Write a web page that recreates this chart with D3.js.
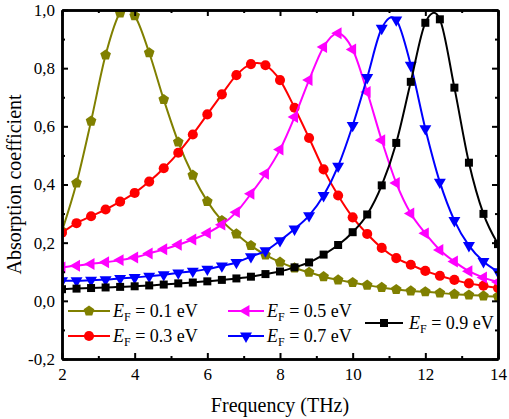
<!DOCTYPE html>
<html>
<head>
<meta charset="utf-8">
<script src="https://cdn.jsdelivr.net/npm/d3@7"></script>
<style>
  html, body { margin: 0; padding: 0; background: #fff; }
  svg { display: block; }
  text { font-family: "Liberation Serif", "Times New Roman", serif; fill: #000; }
</style>
</head>
<body>
<svg id="chart" width="509" height="419"></svg>
<script>
// ---- data ----
const freqs = [2.0, 2.4, 2.8, 3.2, 3.6, 4.0, 4.4, 4.8, 5.2, 5.6, 6.0, 6.4, 6.8, 7.2, 7.6, 8.0,
               8.4, 8.8, 9.2, 9.6, 10.0, 10.4, 10.8, 11.2, 11.6, 12.0, 12.4, 12.8, 13.2, 13.6, 14.0];

const ef01 = [0.240, 0.405, 0.618, 0.845, 0.990, 0.980, 0.853, 0.692, 0.546, 0.432, 0.342, 0.276, 0.230, 0.190, 0.158, 0.133,
              0.113, 0.098, 0.083, 0.072, 0.063, 0.054, 0.046, 0.039, 0.034, 0.031, 0.027, 0.023, 0.020, 0.017, 0.015];
const ef03 = [0.234, 0.267, 0.291, 0.314, 0.341, 0.371, 0.410, 0.456, 0.509, 0.572, 0.641, 0.710, 0.776, 0.814, 0.810, 0.759,
              0.664, 0.560, 0.452, 0.362, 0.287, 0.230, 0.182, 0.147, 0.124, 0.103, 0.086, 0.072, 0.060, 0.052, 0.044];
const ef05 = [0.115, 0.121, 0.127, 0.133, 0.140, 0.149, 0.163, 0.177, 0.193, 0.211, 0.233, 0.262, 0.305, 0.368, 0.437, 0.520,
              0.632, 0.759, 0.873, 0.920, 0.864, 0.718, 0.552, 0.405, 0.300, 0.232, 0.175, 0.135, 0.102, 0.080, 0.065];
const ef07 = [0.069, 0.069, 0.071, 0.073, 0.077, 0.080, 0.085, 0.090, 0.096, 0.102, 0.109, 0.120, 0.132, 0.152, 0.172, 0.207,
              0.247, 0.293, 0.362, 0.463, 0.603, 0.768, 0.937, 0.966, 0.810, 0.592, 0.408, 0.276, 0.190, 0.135, 0.100];
const ef09 = [0.040, 0.042, 0.044, 0.046, 0.048, 0.050, 0.053, 0.056, 0.060, 0.063, 0.067, 0.072, 0.077, 0.083, 0.092, 0.101,
              0.115, 0.132, 0.159, 0.192, 0.236, 0.297, 0.397, 0.543, 0.753, 0.956, 0.968, 0.733, 0.475, 0.299, 0.195];

const seriesNames  = ["0.1", "0.3", "0.5", "0.7", "0.9"];
const seriesValues = [ef01, ef03, ef05, ef07, ef09];
const seriesColors = ["#808000", "#ff0000", "#ff00ff", "#0000ff", "#000000"];
const seriesShapes = ["pentagon", "circle", "triLeft", "triDown", "square"];

const xTicks = [2, 4, 6, 8, 10, 12, 14];
const xMinor = [3, 5, 7, 9, 11, 13];
const yTicks = [-0.2, 0.0, 0.2, 0.4, 0.6, 0.8, 1.0];
const yMinor = [-0.1, 0.1, 0.3, 0.5, 0.7, 0.9];

// ---- layout ----
const svg = d3.select("#chart");
const L = 62, R = 498, T = 10, B = 359;
const x = d3.scaleLinear().domain([2, 14]).range([L, R]);
const y = d3.scaleLinear().domain([-0.2, 1.0]).range([B, T]);

svg.append("rect").attr("width", 509).attr("height", 419).attr("fill", "#fff");

svg.append("defs").append("clipPath").attr("id", "plotclip")
  .append("rect").attr("x", L).attr("y", T).attr("width", R - L).attr("height", B - T);

// ---- marker shapes ----
function markerPath(shape) {
  if (shape === "pentagon") {
    const r = 5.6;
    const pts = d3.range(5).map(k => {
      const a = -Math.PI / 2 + k * 2 * Math.PI / 5;
      return [r * Math.cos(a), r * Math.sin(a)];
    });
    return "M" + pts.map(p => p.join(",")).join("L") + "Z";
  }
  if (shape === "circle") return d3.symbol().type(d3.symbolCircle).size(80)();
  if (shape === "square") return d3.symbol().type(d3.symbolSquare).size(64)();
  return d3.symbol().type(d3.symbolTriangle).size(62)();
}
function markerRotate(shape) {
  if (shape === "triLeft") return -90;
  if (shape === "triDown") return 180;
  return 0;
}

// ---- series ----
const plot = svg.append("g").attr("clip-path", "url(#plotclip)");
const line = d3.line().x(d => x(d[0])).y(d => y(d[1])).curve(d3.curveCardinal.tension(0));

seriesValues.forEach((vals, i) => {
  const pts = freqs.map((f, j) => [f, vals[j]]);
  const g = plot.append("g");
  g.append("path").datum(pts)
    .attr("d", line)
    .attr("fill", "none")
    .attr("stroke", seriesColors[i])
    .attr("stroke-width", 2);
  g.selectAll("path.m").data(pts).join("path")
    .attr("class", "m")
    .attr("d", markerPath(seriesShapes[i]))
    .attr("transform", d => `translate(${x(d[0])},${y(d[1])}) rotate(${markerRotate(seriesShapes[i])})`)
    .attr("fill", seriesColors[i]);
});

// ---- axes ----
const fmtY = v => d3.format(".1f")(v).replace("\u2212", "-").replace(".", ",");
const axStyle = sel => {
  sel.select(".domain").attr("stroke", "#000").attr("stroke-width", 2.5);
  sel.selectAll(".tick line").attr("stroke", "#000").attr("stroke-width", 2);
  sel.selectAll("text").attr("font-family", "Liberation Serif").attr("font-size", 17).attr("fill", "#000");
};

// bottom
svg.append("g").attr("transform", `translate(0,${B})`)
  .call(d3.axisBottom(x).tickValues(xMinor).tickSize(-3).tickFormat("").tickSizeOuter(0)).call(axStyle);
svg.append("g").attr("transform", `translate(0,${B})`)
  .call(d3.axisBottom(x).tickValues(xTicks).tickSize(-6).tickPadding(9).tickFormat(d3.format("d")).tickSizeOuter(0))
  .call(axStyle);
// top
svg.append("g").attr("transform", `translate(0,${T})`)
  .call(d3.axisTop(x).tickValues(xMinor).tickSize(-3).tickFormat("").tickSizeOuter(0)).call(axStyle);
svg.append("g").attr("transform", `translate(0,${T})`)
  .call(d3.axisTop(x).tickValues(xTicks).tickSize(-6).tickFormat("").tickSizeOuter(0)).call(axStyle);
// left
svg.append("g").attr("transform", `translate(${L},0)`)
  .call(d3.axisLeft(y).tickValues(yMinor).tickSize(-3).tickFormat("").tickSizeOuter(0)).call(axStyle);
svg.append("g").attr("transform", `translate(${L},0)`)
  .call(d3.axisLeft(y).tickValues(yTicks).tickSize(-6).tickPadding(7).tickFormat(fmtY).tickSizeOuter(0))
  .call(axStyle);
// right
svg.append("g").attr("transform", `translate(${R},0)`)
  .call(d3.axisRight(y).tickValues(yMinor).tickSize(-3).tickFormat("").tickSizeOuter(0)).call(axStyle);
svg.append("g").attr("transform", `translate(${R},0)`)
  .call(d3.axisRight(y).tickValues(yTicks).tickSize(-6).tickFormat("").tickSizeOuter(0)).call(axStyle);

// ---- axis titles ----
svg.append("text")
  .attr("x", (L + R) / 2).attr("y", 412)
  .attr("text-anchor", "middle").attr("font-size", 20)
  .text("Frequency (THz)");
svg.append("text")
  .attr("transform", `translate(21,${(T + B) / 2}) rotate(-90)`)
  .attr("text-anchor", "middle").attr("font-size", 20)
  .text("Absorption coefficient");

// ---- legend ----
const legendPos = [
  { x1: 68,  x2: 110, y: 311, tx: 113 },
  { x1: 68,  x2: 110, y: 336, tx: 113 },
  { x1: 228, x2: 264, y: 311, tx: 267 },
  { x1: 228, x2: 264, y: 336, tx: 267 },
  { x1: 365, x2: 403, y: 323, tx: 409 }
];
seriesNames.forEach((name, i) => {
  const p = legendPos[i];
  const g = svg.append("g");
  g.append("line").attr("x1", p.x1).attr("x2", p.x2).attr("y1", p.y).attr("y2", p.y)
    .attr("stroke", seriesColors[i]).attr("stroke-width", 2);
  g.append("path").attr("d", markerPath(seriesShapes[i]))
    .attr("transform", `translate(${(p.x1 + p.x2) / 2},${p.y}) rotate(${markerRotate(seriesShapes[i])})`)
    .attr("fill", seriesColors[i]);
  const t = g.append("text").attr("x", p.tx).attr("y", p.y + 6).attr("font-size", 18);
  t.append("tspan").attr("font-style", "italic").text("E");
  t.append("tspan").attr("font-size", 12).attr("dy", 4).text("F");
  t.append("tspan").attr("dy", -4).text(" = " + name + " eV");
});
</script>
</body>
</html>
